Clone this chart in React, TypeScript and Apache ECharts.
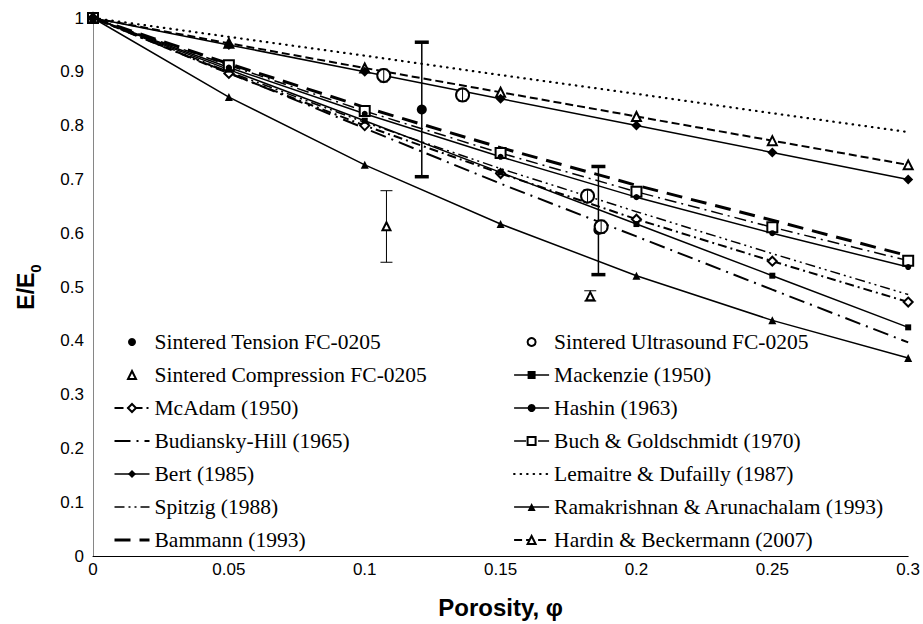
import React, { useEffect, useRef } from "react";
import * as echarts from "echarts";

// Porosity grid for the model curves
const porosity = [0, 0.05, 0.1, 0.15, 0.2, 0.25, 0.3];

// Model curves, E/E0
const mackenzie = [1, 0.904, 0.809, 0.713, 0.617, 0.521, 0.425];
const mcadam = [1, 0.897, 0.8, 0.711, 0.626, 0.548, 0.472];
const hashin = [1, 0.908, 0.822, 0.742, 0.667, 0.6, 0.537];
const budianskyHill = [1, 0.898, 0.795, 0.692, 0.594, 0.495, 0.397];
const buchGoldschmidt = [1, 0.912, 0.827, 0.749, 0.677, 0.611, 0.549];
const bert = [1, 0.95, 0.9, 0.85, 0.8, 0.75, 0.7];
const lemaitreDufailly = [1, 0.965, 0.93, 0.894, 0.859, 0.823, 0.788];
const spitzig = [1, 0.9, 0.806, 0.72, 0.64, 0.562, 0.486];
const ramakrishnan = [1, 0.853, 0.727, 0.617, 0.521, 0.438, 0.368];
const bammann = [1, 0.915, 0.834, 0.759, 0.689, 0.624, 0.558];
const hardinBeckermann = [1, 0.953, 0.907, 0.862, 0.817, 0.772, 0.727];

// Experimental points: [porosity, E/E0]
const tensionPts = [[0.121, 0.83], [0.186, 0.606]];
const ultrasoundPts = [[0.107, 0.893], [0.136, 0.857], [0.182, 0.669], [0.187, 0.612]];
const compressionPts = [[0.108, 0.613], [0.183, 0.483]];

// Error bars: [porosity, low, high]
const tensionErr = [[0.121, 0.705, 0.955], [0.186, 0.523, 0.724]];
const ultrasoundErr = [[0.107, 0.881, 0.905], [0.136, 0.845, 0.869], [0.182, 0.657, 0.681], [0.187, 0.6, 0.624]];
const compressionErr = [[0.108, 0.546, 0.679], [0.183, 0.474, 0.493]];

const xTicks = { min: 0, max: 0.3, interval: 0.05 };
const yTicks = { min: 0, max: 1, interval: 0.1 };

const leftLegend = [
  "Sintered Tension FC-0205",
  "Sintered Compression FC-0205",
  "McAdam (1950)",
  "Budiansky-Hill (1965)",
  "Bert (1985)",
  "Spitzig (1988)",
  "Bammann (1993)",
];
const rightLegend = [
  "Sintered Ultrasound FC-0205",
  "Mackenzie (1950)",
  "Hashin (1963)",
  "Buch & Goldschmidt (1970)",
  "Lemaitre & Dufailly (1987)",
  "Ramakrishnan & Arunachalam (1993)",
  "Hardin & Beckermann (2007)",
];
const noMarker = ["Budiansky-Hill (1965)", "Spitzig (1988)", "Bammann (1993)", "Lemaitre & Dufailly (1987)"];

const zip = (vals: number[]) => porosity.map((p, i) => [p, vals[i]]);

function lineSeries(name: string, vals: number[], symbol: string, symbolSize: number, width: number, type: any, extra: any = {}) {
  return {
    name,
    type: "line",
    data: zip(vals),
    symbol,
    symbolSize,
    showSymbol: symbol !== "none",
    clip: false,
    lineStyle: { color: "#000", width, type, ...(extra.lineStyle || {}) },
    itemStyle: { color: "#000", borderWidth: 1, opacity: 1 },
    z: 3,
  };
}

// experimental points: markers only (line type keeps legend icons in proportion)
function pointSeries(name: string, data: number[][], symbol: string, symbolSize: number, z: number) {
  return {
    name,
    type: "line",
    data,
    symbol,
    symbolSize,
    showSymbol: true,
    clip: false,
    lineStyle: { width: 0, opacity: 0 },
    itemStyle: { color: "#000", borderWidth: 1, opacity: 1 },
    z,
  };
}

function errSeries(data: number[][], capW: number, capLw: number, barLw: number, z: number) {
  return {
    type: "custom",
    coordinateSystem: "cartesian2d",
    data,
    encode: { x: 0, y: [1, 2] },
    z,
    silent: true,
    clip: false,
    renderItem: (_p: any, api: any) => {
      const x = api.value(0);
      const lo = api.coord([x, api.value(1)]);
      const hi = api.coord([x, api.value(2)]);
      const h = capW / 2;
      return {
        type: "group",
        children: [
          { type: "line", shape: { x1: lo[0], y1: lo[1], x2: hi[0], y2: hi[1] }, style: { stroke: "#000", lineWidth: barLw } },
          { type: "line", shape: { x1: lo[0] - h, y1: lo[1], x2: lo[0] + h, y2: lo[1] }, style: { stroke: "#000", lineWidth: capLw } },
          { type: "line", shape: { x1: hi[0] - h, y1: hi[1], x2: hi[0] + h, y2: hi[1] }, style: { stroke: "#000", lineWidth: capLw } },
        ],
      };
    },
  };
}

const legendItem = (n: string) => (noMarker.includes(n) ? { name: n, itemStyle: { opacity: 0 } } : { name: n });

const legendBase = {
  orient: "vertical",
  top: 330,
  itemWidth: 35,
  itemHeight: 10,
  itemGap: 9,
  padding: 0,
  selectedMode: false,
  textStyle: { fontFamily: "Liberation Serif", fontSize: 21.5, color: "#000", lineHeight: 24 },
  lineStyle: { width: "inherit" },
};

export default function App() {
  const ref = useRef<HTMLDivElement>(null);
  useEffect(() => {
    if (!ref.current) return;
    const chart = echarts.init(ref.current, undefined, { renderer: "svg" });
    const axisLabel = { fontFamily: "Liberation Sans", fontSize: 17, color: "#000" };
    chart.setOption({
      animation: false,
      backgroundColor: "#fff",
      grid: { left: 93, right: 12, top: 18, bottom: 67 },
      xAxis: {
        type: "value",
        ...xTicks,
        name: "Porosity, φ",
        nameLocation: "middle",
        nameGap: 39,
        nameTextStyle: { fontFamily: "Liberation Sans", fontSize: 24, fontWeight: "bold", color: "#000" },
        axisLine: { show: true, lineStyle: { color: "#000", width: 1 } },
        axisTick: { show: false },
        splitLine: { show: false },
        axisLabel: { ...axisLabel, margin: 5 },
      },
      yAxis: {
        type: "value",
        ...yTicks,
        name: "{a|E/E}{b|0}",
        nameLocation: "middle",
        nameGap: 50,
        nameRotate: 90,
        nameTextStyle: {
          color: "#000",
          rich: {
            a: { fontFamily: "Liberation Sans", fontSize: 23, fontWeight: "bold", color: "#000", verticalAlign: "bottom", padding: [0, 0, 6, 0] },
            b: { fontFamily: "Liberation Sans", fontSize: 15, fontWeight: "bold", color: "#000", verticalAlign: "bottom", padding: [11, 0, 0, 0] },
          },
        },
        axisLine: { show: true, lineStyle: { color: "#868686", width: 1 } },
        axisTick: { show: false },
        splitLine: { show: false },
        axisLabel: { ...axisLabel, margin: 9 },
      },
      legend: [
        { ...legendBase, left: 113, data: leftLegend.map(legendItem) },
        { ...legendBase, left: 513, data: rightLegend.map(legendItem) },
      ],
      series: [
        lineSeries("Lemaitre & Dufailly (1987)", lemaitreDufailly, "none", 0, 2.2, [0.5, 6], { lineStyle: { cap: "round" } }),
        lineSeries("Hardin & Beckermann (2007)", hardinBeckermann, "emptyTriangle", 9, 2, [8, 4]),
        lineSeries("Bert (1985)", bert, "diamond", 10, 1.5, "solid"),
        lineSeries("Bammann (1993)", bammann, "none", 0, 3, [16, 9]),
        lineSeries("Buch & Goldschmidt (1970)", buchGoldschmidt, "emptyRect", 10, 1.5, [12, 5, 2, 5]),
        lineSeries("Hashin (1963)", hashin, "circle", 6, 1.5, "solid"),
        lineSeries("Spitzig (1988)", spitzig, "none", 0, 1.5, [10, 4, 2, 4, 2, 4]),
        lineSeries("McAdam (1950)", mcadam, "emptyDiamond", 9, 2, [9, 4, 2, 4]),
        lineSeries("Mackenzie (1950)", mackenzie, "rect", 6, 1.5, "solid"),
        lineSeries("Budiansky-Hill (1965)", budianskyHill, "none", 0, 2, [16, 6, 2, 6]),
        lineSeries("Ramakrishnan & Arunachalam (1993)", ramakrishnan, "triangle", 8, 1.5, "solid"),
        errSeries(tensionErr, 14, 3.5, 1.5, 4),
        errSeries(compressionErr, 12, 1, 1, 4),
        pointSeries("Sintered Tension FC-0205", tensionPts, "circle", 10, 5),
        pointSeries("Sintered Ultrasound FC-0205", ultrasoundPts, "emptyCircle", 13, 5),
        pointSeries("Sintered Compression FC-0205", compressionPts, "emptyTriangle", 8, 5),
        errSeries(ultrasoundErr, 8, 1, 1, 6),
      ],
    });
    return () => chart.dispose();
  }, []);
  return <div ref={ref} style={{ position: "fixed", left: 0, top: 0, width: 923, height: 624, background: "#fff" }} />;
}
